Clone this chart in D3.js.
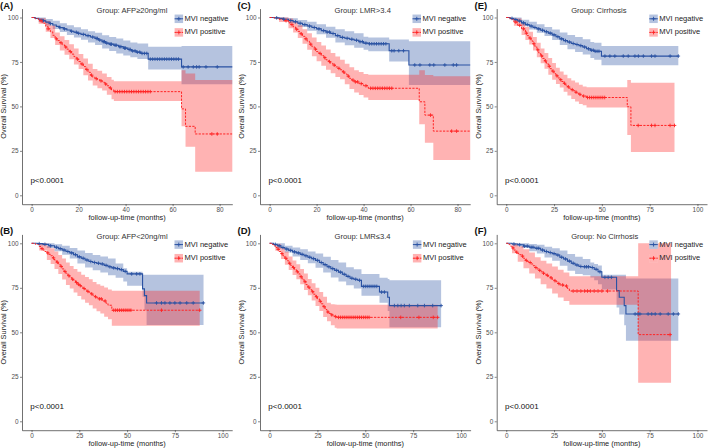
<!DOCTYPE html>
<html><head><meta charset="utf-8">
<script src="https://cdn.jsdelivr.net/npm/d3@7"></script>
<style>
body{margin:0;background:#fff}
text{font-family:"Liberation Sans",Arial,Helvetica,sans-serif}
</style>
</head><body>
<svg id="chart" width="709" height="448"></svg>
<script>
// ---------------- DATA ----------------
const yTicks = [0, 25, 50, 75, 100];
const xTicks80 = [0, 20, 40, 60, 80];
const xTicks100 = [0, 25, 50, 75, 100];
const legendLabels = ["MVI negative", "MVI positive"];
const panelLabels = ["(A)", "(B)", "(C)", "(D)", "(E)", "(F)"];
const panelTitles = ["Group: AFP\u226520ng/ml", "Group: AFP<20ng/ml", "Group: LMR>3.4",
                     "Group: LMR\u22643.4", "Group: Cirrhosis", "Group: No Cirrhosis"];
const pText = "p<0.0001";

// Panel A
const A_neg = [[0,100],[1.5,99.5],[3,99],[4.5,98.2],[6,97.4],[7.5,96.6],[9,95.8],[10.5,95],[12,94.3],[13.5,93.6],[15,93],[16.5,92.3],[18,91.7],[19.5,91.1],[21,90.5],[23,89.8],[25,89],[27,88.2],[28.5,87.3],[30,86.4],[31.5,85.6],[33,85],[35,84.4],[37,83.6],[39,82.8],[41,82],[42.5,81.2],[44.5,80.5],[46.5,79.8],[49.6,76.6],[63.8,72.2],[86,72.2]];
const A_negCI = [[0,100,100],[3,97.5,100],[6,95.5,99.2],[9,93.5,98.2],[12,91.8,96.8],[15,90.2,95.6],[18,88.8,94.5],[21,87.5,93.4],[24,86,92.2],[27,84.6,91.4],[30,82.6,90],[33,81.2,89],[36,79.8,88.2],[39,78.6,87],[42,77.6,86],[45,76.6,85.4],[49.6,70.8,83.5],[63.8,62.4,84],[86,62.4,84]];
const A_negCens = [5,8,12,14,17,19,20,22,24,26,27.5,28,29,30.5,31,32,33.5,34,35.5,36,37.5,38,39.5,40,41.5,42,43,44,45,46,47,48,49,50.5,51.5,52.5,53.5,54.5,55.5,56.5,57.5,58.5,59.5,60.5,61.5,62.5,64.5,66.6,68.8,70.2,71.3,74.2,79];
const A_pos = [[0,100],[1.5,99.3],[3,98.2],[4.5,96.8],[6,95],[7,93.6],[8,92],[9,90],[10,88],[11,87],[12,85.8],[13,84.6],[14,83.4],[15,82.2],[16,80.8],[17,79.4],[18,78],[19,76.6],[20,75.2],[21,73.8],[22,72.4],[23,70.8],[24,69.2],[25,67.6],[26,66.4],[27,65.6],[28,65],[29,64.4],[30,63.6],[31,62.6],[32,61.6],[33,60.4],[34,59.2],[35,58.3],[63.8,48.6],[65.5,38.8],[69.6,34.5],[86,34.5]];
const A_posCI = [[0,100,100],[3,96.5,99.6],[6,92,98],[8,88.5,95.5],[10,84.5,91.6],[12,81.5,89.5],[14,79,87.4],[16,76.5,85],[18,73.5,82.5],[20,71,79.5],[22,67.5,77],[24,64.5,74],[26,61.8,71],[28,60.2,70],[30,59,68.5],[32,56.6,66.6],[34,54,65],[35,53,64.2],[63.8,38.9,70.4],[65.5,27.3,68.5],[69.6,13.2,64.8],[86,13.2,64.8]];
const A_posCens = [4,7,10.5,12.5,14.5,16.5,19.5,21.5,23.5,25.5,27.5,29.5,31.5,33.5,35.5,36.5,37.5,38.5,39.5,40.5,41.5,42.5,43.5,44.5,45.5,46.5,47.5,48.5,49.5,50.5,76.7,79];

// Panel B
const B_neg = [[0,100],[3,99.8],[6,99.4],[9,98.6],[12,97.8],[14,97],[16,96.2],[18,95.4],[20,94.6],[22,93.6],[24,92.4],[26,91.6],[28,90.6],[30,89.8],[32,89.2],[34,88.8],[36,88.4],[38,87.6],[40,86.8],[42,86.2],[44,85.8],[46,85.2],[48,84.2],[50,82.8],[58.1,74.4],[59.1,70.6],[60.2,66.5],[90,66.5]];
const B_negCI = [[0,100,100],[4,98.8,100],[8,97.4,100],[12,95.6,99.4],[16,93.6,98.6],[20,91.4,97.4],[24,88.6,96],[28,86.4,94.6],[32,84.8,93.4],[36,83.6,92.6],[40,82,91.4],[44,80.6,88.6],[48,78.6,86],[50,76.2,84],[58.1,70,82.4],[59.1,62.5,82.4],[60.2,54.1,82.4],[90,54.1,82.4]];
const B_negCens = [4,7,10,13,15,17,19,21,23,25,27,29,31,33,35,37,39,41,43,45,47,49,52.4,55,56.7,65.4,68,69.8,72.4,75,77.7,81.2,84.6,89.9];
const B_pos = [[0,100],[2,99.4],[4,98.2],[5,97],[6,96.2],[7,95.4],[8,94.6],[9,93.8],[10,93],[11,91.8],[12,90.6],[13,89.4],[14,88.2],[15,87],[16,85.6],[17,84.2],[18,83],[19,81.8],[20,80.8],[21,79.8],[22,79],[23,78],[24,77],[25,76.2],[26,75.4],[27,74.6],[28,73.8],[29,73],[30,72.4],[31,71.6],[32,70.8],[33,70],[34,69.4],[35,68.8],[37,67.6],[39,66.2],[40,65.2],[42,62.4],[88,62.4]];
const B_posCI = [[0,100,100],[4,96,100],[8,90.6,98.4],[10,88.4,97.2],[12,85.6,95.4],[14,82.8,93.4],[16,79.6,91.4],[18,76.6,89.2],[20,74.6,87.2],[22,72.4,85.6],[24,70.4,84],[26,68.4,82.4],[28,66.6,81],[30,65.2,79.8],[32,63.4,78.2],[34,61.8,77],[36,60.6,76.2],[38,58.8,75.2],[40,57.4,74],[42,53.7,73.4],[88,53.7,73.4]];
const B_posCens = [5.5,8.5,11.5,13.5,15.5,17.5,19.5,21.5,23.5,24.5,25.5,27.5,29.5,31.5,33.5,35.5,36.5,38.5,43,44,45,46,47,48,49,50,51,52,68,88];

// Panel C
const C_neg = [[0,100],[2,99.8],[4,99.5],[6,99],[8,98.3],[10,97.6],[12,96.8],[14,96],[16,95.2],[18,94.4],[20,93.6],[22,92.6],[24,91.8],[26,91],[28,89.8],[30,88.8],[32,88.3],[34,87.8],[36,87.2],[38,86.4],[40,85.6],[42,85.2],[50.9,81.3],[59.3,73.3],[86,73.3]];
const C_negCI = [[0,100,100],[4,98.6,100],[8,96.8,99.6],[12,94.6,98.6],[16,92.6,97.6],[20,90.6,96.2],[24,88.6,94.8],[28,86,93.4],[32,84.4,92.2],[36,83,91.2],[40,81.8,89.2],[42,81,88.8],[50.9,75.2,87.6],[59.3,62,86.7],[86,62,86.7]];
const C_negCens = [3,6,9,11,13,15,17,19,21,23,24.5,25.5,27,29,31,33,35,37,38.5,39.5,41,42.5,43.5,44.5,45.5,46.5,47.5,48.5,49.5,52,53,55,57,61.8,64,68.2,69.9,74.6,78.2,79.6];
const C_pos = [[0,100],[2,99.6],[4,99],[6,98.2],[8,97],[9,96],[10,94.8],[11,93.4],[12,92.2],[13,90.8],[14,89.4],[15,88],[16,86.6],[17,85],[18,83.6],[19,82.2],[20,80.8],[21,79.8],[22,78.6],[23,77.4],[24,76.2],[25,75.2],[26,74.2],[27,73.2],[28,72.2],[29,71.4],[30,70.6],[31,69.4],[32,68.2],[33,67],[34,65.8],[35,64.8],[36,63.8],[38,62.8],[40,61.6],[42,60.2],[63.7,52.6],[66.1,45.1],[69.7,36.1],[86,36.1]];
const C_posCI = [[0,100,100],[4,97.4,100],[8,94,99.4],[10,91.6,97.6],[12,88.4,95.6],[14,85.2,93.4],[16,81.8,91.2],[18,78.2,88.8],[20,75.4,86.2],[22,72.8,84.2],[24,70.6,82],[26,68.6,80],[28,66.6,78],[30,65.2,76.2],[32,62.4,74],[34,59.8,72],[36,57.8,70.4],[38,56.4,69.4],[40,55,68.2],[42,53.6,67.8],[63.7,40,70.4],[66.1,29.6,67.6],[69.7,19.9,67],[86,19.9,67]];
const C_posCens = [7,9.5,11.5,13.5,15.5,17.5,19.5,21.5,23.5,25.5,27.5,29.5,31.5,33.5,35.5,36.5,37.5,39,41,43,44,45,46,47,48,49,50,51,52,68.5,77.5,79.6];

// Panel D
const D_neg = [[0,100],[2,99.4],[4,98.6],[6,97.6],[8,96.8],[10,96],[12,95.2],[14,94.6],[16,93.8],[18,93],[20,92.2],[22,91.4],[24,90.4],[26,89.2],[28,88],[30,86.8],[32,85.8],[34,84.8],[36,83.8],[38,82.6],[40,81.4],[42,80.4],[44,79.8],[46,79.2],[48,75.8],[57.4,72.6],[61.7,69.7],[62.6,65],[89.6,65]];
const D_negCI = [[0,100,100],[4,97,100],[8,94.8,98.6],[12,92.6,97.6],[16,90.6,96.6],[20,88.8,95.4],[24,86.2,94.2],[28,83.6,92.4],[32,80.8,90.6],[36,78.6,89.2],[40,76.4,86.6],[44,74.6,85.4],[48,70.6,82.8],[57.4,66.6,80.6],[61.7,62,80],[62.6,52.8,79.2],[89.6,52.8,79.2]];
const D_negCens = [3,5,7,9,11,13,15,17,19,21,23,25,27,29,31,33,35,37,39,41,43,45,47,49,50,51,52,53,54,55,56,58.5,60,65.2,67,68.7,70.4,73,77.4,80.9,85.2,89.6];
const D_pos = [[0,100],[1,99.4],[2,98.6],[3,97.6],[4,96.6],[5,95.4],[6,94.2],[7,93],[8,91.6],[9,90.2],[10,88.8],[11,87.6],[12,86.4],[13,85.2],[14,84],[15,82.8],[16,81.2],[17,79.8],[18,78.4],[19,76.8],[20,75.4],[21,74],[22,72.8],[23,71.4],[24,70],[25,68.8],[26,67.4],[27,66],[28,64.4],[29,62.8],[30,61.4],[31,60.6],[32,59.8],[33,59.2],[34,58.8],[35,58.4],[87.8,58.4]];
const D_posCI = [[0,100,100],[3,95.8,99.4],[6,91.2,97.2],[8,88,95.2],[10,85,92.6],[12,82.2,90.4],[14,79.8,88.2],[16,77,85.6],[18,73.8,83],[20,70.8,80],[22,67.8,77.6],[24,64.8,75],[26,62,72.6],[28,58.6,70],[30,56.2,66.6],[32,54,65.8],[34,52.6,65.6],[35,52.2,65.5],[87.8,52.2,65.5]];
const D_posCens = [4.5,6.5,8.5,10.5,12.5,14.5,16.5,18.5,20.5,22.5,24.5,26.5,28.5,30.5,32.5,34.5,36,37,38,39,40,41,42,43,44,45,46,47,48,49,50,51,52,68.5,78,85.5,87.8];

// Panel E
const E_neg = [[0,100],[2,99.5],[4,98.8],[6,98],[8,97],[10,96],[12,95.2],[14,94.4],[16,93.6],[18,92.8],[20,92],[22,91.2],[24,90.2],[26,89.2],[28,88],[30,87],[32,86.2],[34,85.4],[36,84.8],[38,84.2],[40,83.4],[42,82.4],[44,81.6],[46,81],[49.8,78.3],[90,78.3]];
const E_negCI = [[0,100,100],[4,97.6,100],[8,95.4,98.8],[12,93.2,97.6],[16,91.4,96.2],[20,89.6,94.6],[24,87.4,93.2],[28,84.6,91.6],[32,82.2,90.2],[36,80.6,89],[40,79.2,87.8],[44,77.2,86.2],[46,76.2,85.8],[49.8,73.2,83.9],[90,73.2,83.9]];
const E_negCens = [3,5,7,9,11,13,15,17,19,21,23,25,27,29,31,33,35,37,39,41,43,44.5,45.5,46.5,47.5,48.5,51.6,54.2,56.8,61.2,63.8,67.3,69.1,71.7,76,77.8,85.7,90];
const E_pos = [[0,100],[2,99],[4,97.4],[6,95.6],[8,93.6],[10,91.2],[11,89.8],[12,88.4],[13,86.8],[14,85.2],[15,83.6],[16,81.8],[17,80],[18,78.4],[19,77],[20,75.6],[21,74],[22,72.6],[23,71.2],[24,69.8],[25,68.4],[26,67.2],[27,66],[28,65],[29,64],[30,63],[31,62],[32,61],[33,60.2],[34,59.4],[35,58.8],[36,58],[37,57.4],[38,56.8],[39,56.2],[40,55.8],[42,55],[63.3,49.8],[65.2,39.3],[88,39.3]];
const E_posCI = [[0,100,100],[4,95.4,99.4],[8,90.2,96.8],[10,87.4,94.6],[12,84.8,92],[14,81.4,89],[16,77.6,85.8],[18,74.2,82.6],[20,71.2,80],[22,67.8,77.2],[24,65,74.4],[26,62.6,71.8],[28,60.6,69.6],[30,58.2,67.8],[32,56.2,65.8],[34,54.2,64.6],[36,52.8,63.4],[38,51.4,62.2],[40,50.6,61.2],[42,49.4,60.7],[63.3,33.9,64.8],[65.2,24.3,63.3],[88,24.3,63.3]];
const E_posCens = [5,7,9,10.5,12.5,14.5,16.5,18.5,20.5,22.5,24.5,26.5,28.5,30.5,32.5,34.5,36.5,38.5,40.5,42.5,43.5,44.5,45.5,46.5,47.5,48.5,49.5,50.5,51.5,69,76,77.8,85.7,88];

// Panel F
const F_neg = [[0,100],[3,99.6],[6,99.2],[9,98.4],[12,97.8],[15,97.2],[18,96.2],[20,95.4],[22,94.8],[24,94.2],[26,93.4],[28,92.2],[30,91.2],[32,90],[34,88.8],[36,87.8],[38,87],[40,86.8],[44,86.4],[46,85.4],[48,84],[50,80.9],[57.7,73.4],[59.1,69.7],[61.7,65],[62.6,60.3],[90,60.3]];
const F_negCI = [[0,100,100],[4,98.4,100],[8,97.4,100],[12,95.6,99.6],[16,94.2,99.2],[20,92,98],[24,90.2,97.2],[28,87.4,96],[32,84.6,94],[36,82.8,92.4],[40,82,91.2],[44,80.8,89.2],[46,79.2,88.4],[48,77,87.5],[50,74,82.4],[57.7,64,82.4],[59.1,60,82.4],[61.7,54,82.4],[62.6,45.3,80.2],[90,45.3,80.2]];
const F_negCens = [4,7,9.5,11,13,14,16,17,19,21,23,25,27,29,31,33,35,37,39,41,42,43,45,47,49,51.6,53.3,55,67.4,68.9,69.9,74.2,76.1,77.9,80.5,84.7,87.4,90];
const F_pos = [[0,100],[1,99.4],[2,98.4],[3,97.4],[4,96.2],[5,95],[6,94.2],[7,93.6],[8,92.8],[9,91.6],[10,90.4],[11,89.8],[12,89.2],[13,88.4],[14,87.4],[15,86.4],[16,85.6],[17,84.8],[18,84],[19,83.2],[20,82.6],[21,82],[22,81.4],[23,80.6],[24,79.8],[25,79],[26,78.4],[27,77.4],[28,76.6],[30,76],[32,74.6],[33,73.2],[69,48.7],[86.2,48.7]];
const F_posCI = [[0,100,100],[3,94.4,99.8],[6,89.6,98.4],[9,86,96.6],[12,83,94.8],[15,80.2,92.2],[18,77,90.2],[21,74.6,88.6],[24,71.8,87],[27,69.6,85.2],[30,67.6,83.6],[33,65.5,81.5],[69,21.7,100],[86.2,21.7,100]];
const F_posCens = [3.5,5.5,8.5,10.5,12.5,15.5,17.5,19.5,21.5,23.5,25.5,27.5,29.5,31.5,35,37,39,41,42.5,44,46,48,50,53,85.7];

// ---------------- LAYOUT / STYLE ----------------
const layout = [
  {L:22,    R:232.3, T:8.6,   B:204.2, xd:[-4.1,85.4], ticks:xTicks80,  labX:0,     labY:8.8},
  {L:22,    R:232.2, T:234.4, B:430.2, xd:[-5,105],    ticks:xTicks100, labX:0,     labY:234.4},
  {L:260,   R:470.2, T:8.6,   B:204.2, xd:[-4.1,85.4], ticks:xTicks80,  labX:237.5, labY:8.8},
  {L:260,   R:470.6, T:234.4, B:430.2, xd:[-5,105],    ticks:xTicks100, labX:237.5, labY:234.4},
  {L:496.7, R:707,   T:8.6,   B:204.2, xd:[-5,105],    ticks:xTicks100, labX:474.5, labY:8.8},
  {L:496.7, R:707,   T:234.4, B:430.2, xd:[-5,105],    ticks:xTicks100, labX:474.5, labY:234.4}
];
const panelData = [
  [A_neg, A_negCI, A_negCens, A_pos, A_posCI, A_posCens],
  [B_neg, B_negCI, B_negCens, B_pos, B_posCI, B_posCens],
  [C_neg, C_negCI, C_negCens, C_pos, C_posCI, C_posCens],
  [D_neg, D_negCI, D_negCens, D_pos, D_posCI, D_posCens],
  [E_neg, E_negCI, E_negCens, E_pos, E_posCI, E_posCens],
  [F_neg, F_negCI, F_negCens, F_pos, F_posCI, F_posCens]
];
const BLUE = "#2a52a3", RED = "#ff2424";
const BAND_OP = 0.35;

const svg = d3.select("#chart");

function stepAt(curve, t) {
  let s = curve[0][1];
  for (const p of curve) { if (p[0] <= t) s = p[1]; else break; }
  return s;
}

panelData.forEach((pd, i) => {
  const lay = layout[i];
  const [neg, negCI, negCens, pos, posCI, posCens] = pd;
  const g = svg.append("g");
  const x = d3.scaleLinear().domain(lay.xd).range([lay.L, lay.R]);
  const y = d3.scaleLinear().domain([-5, 105]).range([lay.B, lay.T]);

  const clipId = "clip" + i;
  g.append("clipPath").attr("id", clipId).append("rect")
    .attr("x", lay.L).attr("y", lay.T).attr("width", lay.R - lay.L).attr("height", lay.B - lay.T);
  const plot = g.append("g").attr("clip-path", `url(#${clipId})`);

  const area = d3.area().curve(d3.curveStepAfter)
    .x(d => x(d[0])).y0(d => y(d[1])).y1(d => y(d[2]));
  const line = d3.line().curve(d3.curveStepAfter).x(d => x(d[0])).y(d => y(d[1]));

  plot.append("path").attr("d", area(negCI)).attr("fill", BLUE).attr("fill-opacity", BAND_OP);
  plot.append("path").attr("d", area(posCI)).attr("fill", RED).attr("fill-opacity", BAND_OP);

  plot.append("path").attr("d", line(neg)).attr("fill", "none").attr("stroke", BLUE).attr("stroke-width", 1.1);
  plot.append("path").attr("d", line(pos)).attr("fill", "none").attr("stroke", RED).attr("stroke-width", 1)
    .attr("stroke-dasharray", "2.2,1.3");

  const cross = (c, curve) => {
    const X = x(c), Y = y(stepAt(curve, c)), h = 1.8;
    return `M${X - h},${Y}h${2 * h}M${X},${Y - h}v${2 * h}`;
  };
  plot.append("path").attr("d", negCens.map(c => cross(c, neg)).join(""))
    .attr("stroke", BLUE).attr("stroke-width", 0.9).attr("fill", "none");
  plot.append("path").attr("d", posCens.map(c => cross(c, pos)).join(""))
    .attr("stroke", RED).attr("stroke-width", 0.9).attr("fill", "none");

  // axes
  const yAxis = d3.axisLeft(y).tickValues(yTicks).tickSize(2).tickSizeOuter(0).tickPadding(1.5);
  const xAxis = d3.axisBottom(x).tickValues(lay.ticks).tickSize(2).tickSizeOuter(0).tickPadding(1);
  const ya = g.append("g").attr("transform", `translate(${lay.L},0)`).call(yAxis);
  const xa = g.append("g").attr("transform", `translate(0,${lay.B})`).call(xAxis);
  [ya, xa].forEach(a => {
    a.select(".domain").attr("stroke", "#333").attr("stroke-width", 0.7);
    a.selectAll(".tick line").attr("stroke", "#333").attr("stroke-width", 0.6);
    a.selectAll(".tick text").attr("fill", "#4d4d4d").attr("font-size", 6.4)
      .attr("font-family", '"Liberation Sans",Arial,sans-serif');
  });

  // axis titles
  g.append("text").attr("x", (lay.L + lay.R) / 2).attr("y", lay.B + 13.5)
    .attr("text-anchor", "middle").attr("dominant-baseline", "middle")
    .attr("font-size", 7.4).attr("fill", "#222").text("follow-up-time (months)");
  g.append("text").attr("transform", `translate(${lay.L - 17.5},${(lay.T + lay.B) / 2}) rotate(-90)`)
    .attr("text-anchor", "middle").attr("dominant-baseline", "middle")
    .attr("font-size", 7.3).attr("fill", "#222").text("Overall Survival (%)");

  // title
  g.append("text").attr("x", lay.L + 74.5).attr("y", lay.T + 2.4)
    .attr("dominant-baseline", "middle").attr("font-size", 7.6).attr("fill", "#333")
    .text(panelTitles[i]);

  // p value
  g.append("text").attr("x", x(0) - 1.2).attr("y", y(8)).attr("dominant-baseline", "middle")
    .attr("font-size", 8).attr("fill", "#111").text(pText);

  // panel label
  g.append("text").attr("x", lay.labX).attr("y", lay.labY).attr("font-size", 9.5)
    .attr("font-weight", "bold").attr("fill", "#111").text(panelLabels[i]);

  // legend
  const colors = [BLUE, RED];
  legendLabels.forEach((lab, k) => {
    const tx = lay.R - 47.7, cy = lay.T + 10.2 + k * 13.6;
    const kw = 8.5, kx = tx - kw - 1.5;
    g.append("rect").attr("x", kx).attr("y", cy - kw / 2).attr("width", kw).attr("height", kw).attr("fill", "#fff");
    g.append("rect").attr("x", kx).attr("y", cy - kw / 2).attr("width", kw).attr("height", kw)
      .attr("fill", colors[k]).attr("fill-opacity", BAND_OP);
    g.append("line").attr("x1", kx).attr("x2", kx + kw).attr("y1", cy).attr("y2", cy)
      .attr("stroke", colors[k]).attr("stroke-width", 1).attr("stroke-dasharray", k ? "2.2,1.3" : null);
    g.append("path").attr("d", `M${kx + kw / 2 - 2},${cy}h4M${kx + kw / 2},${cy - 2}v4`)
      .attr("stroke", colors[k]).attr("stroke-width", 0.9);
    g.append("text").attr("x", tx).attr("y", cy).attr("dominant-baseline", "middle")
      .attr("font-size", 7.5).attr("fill", "#222").text(lab);
  });
});
</script>
</body></html>
